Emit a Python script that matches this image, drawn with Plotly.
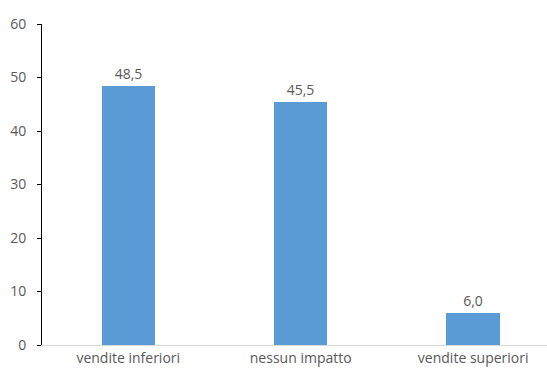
import plotly.graph_objects as go

categories = ["vendite inferiori", "nessun impatto", "vendite superiori"]
values = [48.5, 45.5, 6.0]
y_ticks = [0, 10, 20, 30, 40, 50, 60]

fig = go.Figure(go.Bar(
    x=list(range(len(categories))),
    y=values,
    width=0.31,
    marker=dict(color="#5b9bd5", line=dict(width=0)),
    text=[f"{v:.1f}".replace(".", ",") for v in values],
    textposition="outside",
    textfont=dict(color="#595959", size=14, family="Open Sans"),
    cliponaxis=False,
))

fig.update_layout(
    width=547, height=370,
    margin=dict(l=42, r=0, t=24, b=25),
    plot_bgcolor="white", paper_bgcolor="white",
    showlegend=False,
    font=dict(family="Open Sans", color="#595959", size=14),
    bargap=0,
)
fig.update_xaxes(
    range=[-0.5, 2.428],
    tickvals=list(range(len(categories))),
    ticktext=categories,
    showline=True, linecolor="#d9d9d9", linewidth=1,
    showgrid=False, zeroline=False, ticks="",
    tickfont=dict(size=14, color="#595959"),
)
fig.update_yaxes(
    range=[0, 60],
    tickvals=y_ticks,
    showline=True, linecolor="black", linewidth=1,
    ticks="outside", ticklen=4, tickcolor="black",
    ticklabelstandoff=8,
    showgrid=False, zeroline=False,
    tickfont=dict(size=14, color="#595959"),
)

fig.write_html("out.html")
